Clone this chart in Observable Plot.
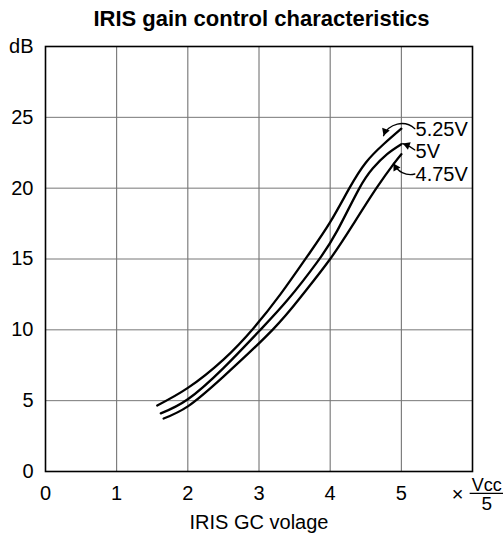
<!DOCTYPE html>
<html>
<head>
<meta charset="utf-8">
<script src="https://cdn.jsdelivr.net/npm/d3@7"></script>
<script src="https://cdn.jsdelivr.net/npm/@observablehq/plot@0.6"></script>
<style>
  body { margin: 0; background: #fff; font-family: "Liberation Sans", Arial, sans-serif; }
  #title { height: 37px; line-height: 37px; font-weight: bold; font-size: 22px; text-align: center; padding-left: 20px; width: 503px; box-sizing: border-box; color: #000; }
</style>
</head>
<body>
<div id="title">IRIS gain control characteristics</div>
<div id="chart"></div>
<script>
const title = "IRIS gain control characteristics";
const xLabel = "IRIS GC volage";
const yUnit = "dB";
const xTicks = [0, 1, 2, 3, 4, 5];
const yTicks = [0, 5, 10, 15, 20, 25, 30];
const xGrid = [1, 2, 3, 4, 5];
const yGrid = [5, 10, 15, 20, 25];

const seriesNames = ["5.25V", "5V", "4.75V"];
const x525 = [1.57, 2.0, 2.5, 2.92, 3.3, 3.68, 4.0, 4.27, 4.5, 4.75, 5.0];
const y525 = [4.66, 5.9, 7.9, 10.1, 12.5, 15.2, 17.6, 20.0, 21.8, 23.1, 24.2];
const x500 = [1.62, 2.0, 2.5, 3.0, 3.4, 3.82, 4.1, 4.4, 4.6, 4.8, 5.0];
const y500 = [4.1, 5.1, 7.3, 9.9, 12.1, 14.8, 17.0, 19.9, 21.4, 22.4, 23.1];
const x475 = [1.66, 2.0, 2.5, 3.19, 3.6, 4.0, 4.33, 4.65, 4.89, 5.0];
const y475 = [3.74, 4.6, 6.7, 10.0, 12.4, 15.0, 17.5, 20.0, 21.7, 22.4];

// label positions (data units) and arrow start/end
const labelX = [5.2, 5.2, 5.2];
const labelY = [24.1, 22.55, 20.95];
const arrowX1 = [5.19, 5.19, 5.19];
const arrowY1 = [24.2, 22.7, 21.0];
const arrowX2 = [4.75, 5.02, 4.89];
const arrowY2 = [23.7, 23.15, 21.75];
const arrowBend = [-55, -10, 40];
const headRotate = [200, 290, 330];

// unit annotation "× Vcc/5"
const unitTimes = "×";
const unitNum = "Vcc";
const unitDen = "5";

const rows = [];
[[x525, y525], [x500, y500], [x475, y475]].forEach(([xs, ys], i) => {
  xs.forEach((x, j) => rows.push({series: seriesNames[i], x, y: ys[j]}));
});
const labels = seriesNames.map((s, i) => ({s, x: labelX[i], y: labelY[i]}));
const arrows = seriesNames.map((s, i) => ({x1: arrowX1[i], y1: arrowY1[i], x2: arrowX2[i], y2: arrowY2[i]}));
const headR = 3;
const apex = 2 * Math.sqrt(Math.PI * headR * headR / (Math.sqrt(3) * 3));
const arrowMarks = arrows.flatMap((a, i) => {
  const t = headRotate[i] * Math.PI / 180;
  return [
    Plot.arrow([a], {x1: "x1", y1: "y1", x2: "x2", y2: "y2", bend: arrowBend[i], stroke: "#000", strokeWidth: 1.3, headLength: 0}),
    Plot.dot([a], {x: "x2", y: "y2", symbol: "triangle", r: headR, fill: "#000", stroke: "none", rotate: headRotate[i], dx: -apex * Math.sin(t), dy: apex * Math.cos(t)})
  ];
});

const chart = Plot.plot({
  width: 503,
  height: 500,
  marginLeft: 45,
  marginRight: 31,
  marginTop: 9,
  marginBottom: 66,
  style: {fontFamily: "'Liberation Sans', Arial, sans-serif", fontSize: "20px", color: "#000", background: "#fff", overflow: "visible"},
  x: {domain: [0, 6]},
  y: {domain: [0, 30]},
  marks: [
    Plot.ruleX(xGrid, {stroke: "#666", strokeWidth: 1}),
    Plot.ruleY(yGrid, {stroke: "#777", strokeWidth: 1}),
    Plot.frame({stroke: "#000", strokeWidth: 1.6}),
    Plot.line(rows, {x: "x", y: "y", z: "series", curve: "natural", stroke: "#000", strokeWidth: 2.3}),
    Plot.axisX(xTicks, {tickSize: 0, tickPadding: 14, label: null}),
    Plot.axisY(yTicks, {tickSize: 0, tickPadding: 12, label: null, tickFormat: d => d === 30 ? yUnit : d}),
    Plot.text([xLabel], {text: d => d, frameAnchor: "bottom", dy: 57}),
    Plot.text(labels, {x: "x", y: "y", text: "s", textAnchor: "start"}),
    ...arrowMarks,
    Plot.text([unitTimes], {x: [5.79], y: [-1.65], text: d => d, fontSize: 20}),
    Plot.text([unitNum], {x: [6.2], y: [-0.95], text: d => d, fontSize: 18}),
    Plot.link([0], {x1: [5.96], x2: [6.44], y1: [-1.55], y2: [-1.55], stroke: "#000", strokeWidth: 1.2}),
    Plot.text([unitDen], {x: [6.2], y: [-2.3], text: d => d, fontSize: 19})
  ]
});
document.getElementById("chart").append(chart);
</script>
</body>
</html>
